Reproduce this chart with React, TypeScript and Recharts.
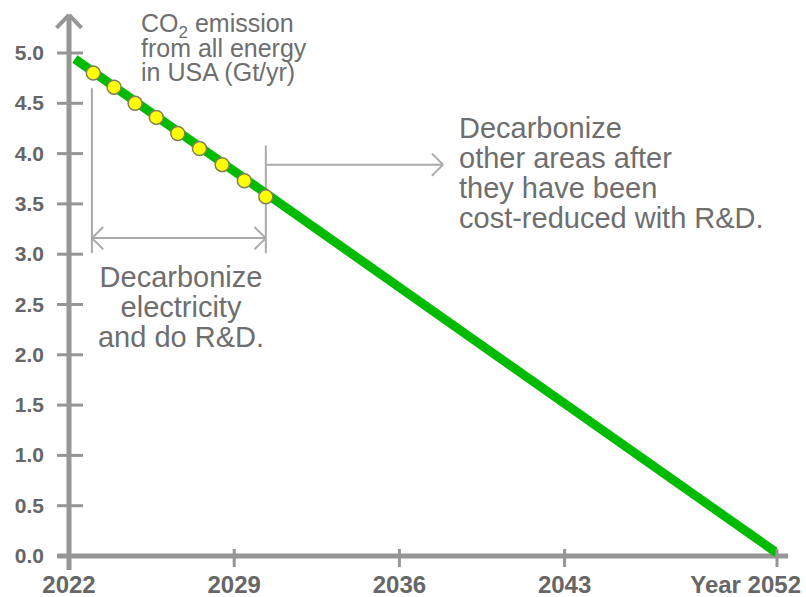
import React from "react"
import { LineChart, Line, XAxis, YAxis, ReferenceLine } from "recharts"

// emission line (Gt/yr), straight from 2022 to 2052
const lineYears = [2022.25, 2052]
const lineValues = [4.94, 0.03]

// yellow yearly markers along the first stretch
const dotYears = [2023.03, 2023.91, 2024.8, 2025.7, 2026.61, 2027.53, 2028.49, 2029.43, 2030.34]
const dotValues = [4.8, 4.66, 4.5, 4.36, 4.2, 4.05, 3.89, 3.73, 3.57]

const xTicks = [2022, 2029, 2036, 2043, 2052]
const yTicks = [0, 0.5, 1, 1.5, 2, 2.5, 3, 3.5, 4, 4.5, 5]

const lineData = lineYears.map((year, i) => ({ year, value: lineValues[i] }))
const dotData = dotYears.map((year, i) => ({ year, value: dotValues[i] }))

const AXIS = "#969696"
const NOTE = "#aaaaaa"
const TEXT = "#6e6e6e"
const FONT = "'Liberation Sans', Arial, sans-serif"

const YTick = (props: any) => {
  const { x, y, payload } = props
  return (
    <g>
      <line x1={x - 12} x2={x + 14} y1={y} y2={y} stroke={AXIS} strokeWidth={3} />
      <text x={x - 25} y={y + 7} textAnchor="end" fontSize={21} fontWeight="bold" fill="#666" fontFamily={FONT}>
        {payload.value.toFixed(1)}
      </text>
    </g>
  )
}

const XTick = (props: any) => {
  const { x, y, payload } = props
  const last = payload.value === xTicks[xTicks.length - 1]
  return (
    <g>
      <line x1={x} x2={x} y1={y - 7} y2={y + 11} stroke={AXIS} strokeWidth={3} />
      <text
        x={last ? x + 24 : x}
        y={y + 37}
        textAnchor={last ? "end" : "middle"}
        fontSize={24}
        fontWeight="bold"
        fill="#666"
        fontFamily={FONT}
      >
        {last ? `Year ${payload.value}` : payload.value}
      </text>
    </g>
  )
}

// helper for the thin grey bracket / arrow segments, in data coordinates
const seg = (key: string, x1: number, y1: number, x2: number, y2: number, stroke = NOTE, w = 2) => (
  <ReferenceLine
    key={key}
    segment={[{ x: x1, y: y1 }, { x: x2, y: y2 }]}
    stroke={stroke}
    strokeWidth={w}
    ifOverflow="visible"
  />
)

const bracketLeft = dotYears[0] - 0.06
const bracketRight = dotYears[dotYears.length - 1]

export default function App() {
  return (
    <div style={{ position: "absolute", left: 0, top: 0, width: 806, height: 597, background: "#fff" }}>
      <LineChart width={806} height={597} margin={{ top: 53, right: 29, bottom: 0, left: 0 }}>
        <XAxis
          dataKey="year"
          type="number"
          domain={[2022, 2052]}
          ticks={xTicks}
          axisLine={false}
          tickLine={false}
          tickSize={0}
          tickMargin={0}
          height={41}
          tick={<XTick />}
          allowDataOverflow
        />
        <YAxis
          type="number"
          domain={[0, 5]}
          ticks={yTicks}
          axisLine={false}
          tickLine={false}
          tickSize={0}
          tickMargin={0}
          width={69}
          tick={<YTick />}
        />

        {/* axes with arrow */}
        {seg("xaxis", 2021.5, 0, 2052.47, 0, AXIS, 5)}
        {seg("yaxis", 2022, -0.14, 2022, 5.38, AXIS, 5)}
        {seg("arrL", 2022, 5.38, 2021.47, 5.25, AXIS, 4)}
        {seg("arrR", 2022, 5.38, 2022.53, 5.25, AXIS, 4)}

        {/* bracket: decarbonize electricity */}
        {seg("bl", bracketLeft, 4.65, bracketLeft, 3.01)}
        {seg("br", bracketRight, 4.08, bracketRight, 3.01)}
        {seg("bh", bracketLeft, 3.16, bracketRight, 3.16)}
        {seg("bh1", bracketLeft, 3.16, bracketLeft + 0.48, 3.27)}
        {seg("bh2", bracketLeft, 3.16, bracketLeft + 0.48, 3.05)}
        {seg("bh3", bracketRight, 3.16, bracketRight - 0.48, 3.27)}
        {seg("bh4", bracketRight, 3.16, bracketRight - 0.48, 3.05)}

        {/* arrow: other areas after */}
        {seg("ra", bracketRight, 3.89, 2037.85, 3.89)}
        {seg("ra1", 2037.85, 3.89, 2037.38, 4.0)}
        {seg("ra2", 2037.85, 3.89, 2037.38, 3.78)}

        <Line
          data={lineData}
          dataKey="value"
          stroke="#00bb00"
          strokeWidth={9}
          dot={false}
          isAnimationActive={false}
        />
        <Line
          data={dotData}
          dataKey="value"
          stroke="none"
          dot={{ r: 7, fill: "#ffff00", stroke: "#80805a", strokeWidth: 1.5 }}
          isAnimationActive={false}
        />
      </LineChart>

      <svg
        width={806}
        height={597}
        style={{ position: "absolute", left: 0, top: 0, pointerEvents: "none" }}
        fontFamily={FONT}
        fill={TEXT}
      >
        <text x={141} y={32} fontSize={25}>
          CO<tspan fontSize={17} dy={6}>2</tspan>
          <tspan dy={-6}> emission</tspan>
        </text>
        <text x={141} y={56.5} fontSize={25}>from all energy</text>
        <text x={141} y={81} fontSize={25}>in USA (Gt/yr)</text>

        <text x={181} y={287} fontSize={29} textAnchor="middle">Decarbonize</text>
        <text x={181} y={317} fontSize={29} textAnchor="middle">electricity</text>
        <text x={181} y={347} fontSize={29} textAnchor="middle">and do R&amp;D.</text>

        <text x={459} y={138} fontSize={29}>Decarbonize</text>
        <text x={459} y={168} fontSize={29}>other areas after</text>
        <text x={459} y={198} fontSize={29}>they have been</text>
        <text x={459} y={228} fontSize={29}>cost-reduced with R&amp;D.</text>
      </svg>
    </div>
  )
}
